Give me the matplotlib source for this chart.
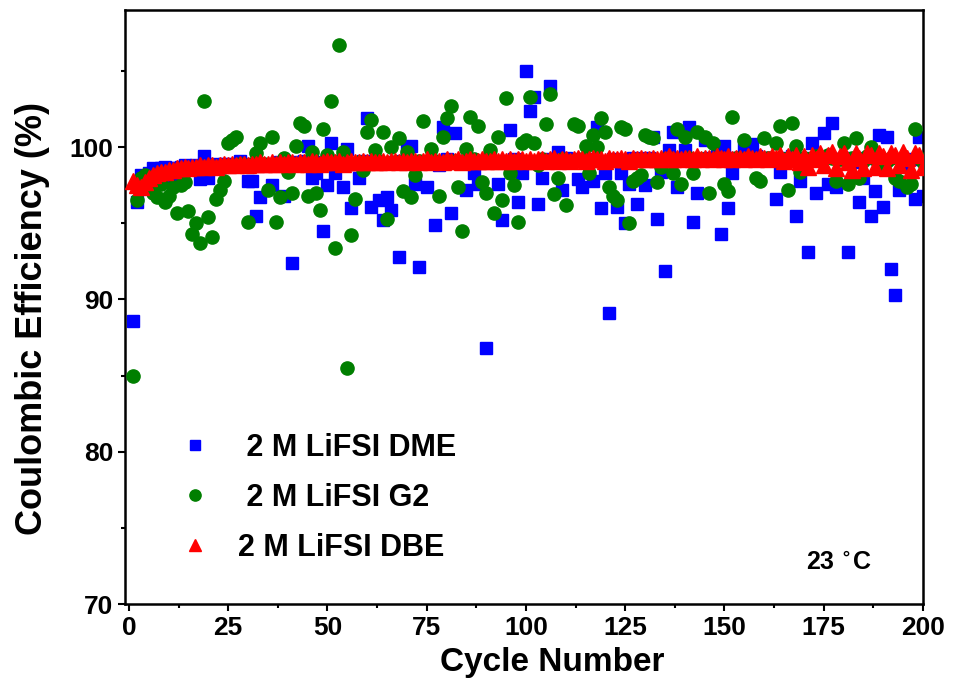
#!/usr/bin/env python

import matplotlib
matplotlib.use("Agg")
import matplotlib.pyplot as plt
from matplotlib.ticker import MultipleLocator

plt.rcParams['font.family'] = ['Liberation Sans', 'DejaVu Sans']
plt.rcParams['font.weight'] = 'bold'

CYCLES = list(range(1, 201))

# 2 M LiFSI DME (blue squares), cycle 1..200
DME_CE = [
	88.6, 96.4, 98.2, 98.0, 98.3, 98.6, 98.5, 98.6, 98.7, 98.6,
	97.8, 98.6, 98.7, 98.8, 98.7, 98.6, 98.8, 97.9, 99.4, 98.0,
	98.8, 98.9, 98.7, 98.9, 98.8, 98.9, 98.8, 99.1, 98.9, 97.8,
	97.8, 95.5, 96.7, 98.9, 98.8, 97.5, 98.9, 99.0, 96.8, 98.9,
	92.4, 99.0, 98.9, 99.1, 100.1, 98.0, 98.3, 99.0, 94.5, 97.5,
	100.3, 98.3, 99.1, 97.4, 99.9, 96.0, 98.9, 98.0, 99.1, 101.9,
	96.1, 99.0, 96.5, 95.2, 96.7, 95.9, 99.0, 92.8, 99.1, 99.9,
	100.1, 97.6, 92.1, 99.0, 97.4, 99.1, 94.9, 98.8, 101.3, 99.2,
	95.7, 100.9, 99.0, 99.1, 97.2, 99.2, 98.3, 97.6, 99.1, 86.8,
	99.2, 99.0, 97.6, 95.2, 99.1, 101.1, 99.2, 96.4, 98.3, 105.0,
	102.4, 103.3, 96.3, 98.0, 99.2, 104.0, 99.1, 99.7, 97.2, 99.3,
	99.1, 99.2, 97.9, 97.4, 99.2, 99.1, 97.8, 101.3, 96.0, 98.3,
	89.1, 99.2, 96.1, 98.3, 95.0, 97.6, 99.3, 96.3, 99.2, 97.5,
	99.3, 100.7, 95.3, 98.4, 91.9, 99.8, 101.0, 97.4, 99.3, 99.8,
	101.3, 95.1, 97.0, 99.2, 100.5, 99.3, 99.2, 99.4, 94.3, 100.1,
	96.0, 98.3, 99.3, 99.2, 100.0, 99.3, 100.2, 99.4, 99.2, 99.3,
	99.3, 99.2, 96.6, 98.4, 99.3, 99.2, 99.4, 95.5, 97.8, 99.3,
	93.1, 100.3, 97.0, 99.3, 100.9, 97.6, 101.6, 97.4, 99.2, 99.3,
	93.1, 99.0, 99.2, 96.4, 98.0, 99.3, 95.5, 97.1, 100.8, 96.1,
	100.7, 92.0, 90.3, 97.2, 99.1, 98.9, 99.2, 96.6, 100.7, 96.8,
]

# 2 M LiFSI G2 (green circles)
G2_CE = [
	85.0, 96.5, 98.0, 98.2, 97.3, 97.0, 96.7, 97.6, 96.4, 96.8,
	97.4, 95.7, 97.5, 97.7, 95.8, 94.3, 95.0, 93.7, 103.0, 95.4,
	94.1, 96.6, 97.2, 97.8, 100.3, 100.5, 100.7, 98.9, 98.8, 95.1,
	98.9, 99.6, 100.3, 98.9, 97.2, 100.7, 95.1, 96.7, 99.3, 98.4,
	97.0, 100.1, 101.6, 101.4, 96.8, 99.7, 97.0, 95.9, 101.2, 99.5,
	103.0, 93.4, 106.7, 99.7, 85.5, 94.2, 96.6, 99.0, 98.5, 101.0,
	101.8, 99.8, 99.1, 101.0, 95.3, 100.0, 99.0, 100.6, 97.1, 99.7,
	96.7, 98.2, 99.1, 101.7, 99.0, 99.9, 99.1, 96.8, 100.7, 101.9,
	102.7, 99.1, 97.4, 94.5, 99.9, 102.0, 99.2, 101.4, 97.7, 97.0,
	99.8, 95.7, 100.7, 96.5, 103.2, 98.3, 97.5, 95.1, 100.3, 100.5,
	103.3, 100.3, 98.8, 99.2, 101.5, 103.5, 96.9, 98.0, 99.2, 96.2,
	99.1, 101.5, 101.4, 99.2, 100.1, 98.3, 100.8, 100.0, 101.9, 101.0,
	97.4, 96.8, 96.5, 101.3, 101.2, 95.0, 97.8, 98.0, 98.2, 100.8,
	100.7, 100.6, 97.7, 98.7, 99.2, 99.3, 98.3, 101.2, 97.6, 100.7,
	99.3, 98.3, 101.0, 99.2, 100.7, 97.0, 100.3, 99.3, 99.2, 97.6,
	97.1, 102.0, 99.3, 99.2, 100.5, 99.3, 99.2, 98.0, 97.8, 100.6,
	99.3, 99.2, 100.3, 101.4, 99.2, 97.2, 101.6, 100.1, 98.4, 99.3,
	99.2, 99.3, 99.4, 99.2, 99.3, 99.5, 99.3, 97.8, 99.2, 100.3,
	97.6, 99.3, 100.6, 98.0, 99.1, 99.4, 100.0, 99.2, 99.3, 98.7,
	99.1, 99.3, 98.0, 97.8, 99.2, 97.4, 97.6, 101.2, 99.3, 99.0,
]

# 2 M LiFSI DBE (red triangles)
DBE_CE = [
	97.8, 97.5, 97.4, 97.7, 98.0, 98.2, 98.3, 98.4, 98.4, 98.5,
	98.5, 98.6, 98.6, 98.7, 98.6, 98.7, 98.7, 98.8, 98.7, 98.8,
	98.8, 98.7, 98.8, 98.9, 98.8, 98.9, 98.8, 98.9, 98.9, 98.8,
	98.9, 98.9, 99.0, 98.9, 98.9, 99.0, 98.9, 99.0, 98.9, 99.0,
	99.0, 98.9, 99.0, 99.0, 98.9, 99.1, 99.0, 98.9, 99.0, 99.1,
	99.0, 99.0, 99.1, 98.9, 99.0, 99.1, 99.0, 99.0, 99.1, 99.0,
	99.1, 99.0, 99.0, 99.1, 99.0, 99.1, 99.1, 99.0, 99.1, 99.0,
	99.1, 99.1, 99.0, 99.1, 99.2, 99.0, 99.1, 99.1, 99.0, 99.2,
	99.1, 99.1, 99.2, 99.0, 99.1, 99.2, 99.1, 99.1, 99.2, 99.1,
	99.1, 99.2, 99.1, 99.2, 99.1, 99.2, 99.1, 99.2, 99.2, 99.1,
	99.2, 99.1, 99.2, 99.2, 99.1, 99.2, 99.3, 99.1, 99.2, 99.2,
	99.1, 99.2, 99.3, 99.2, 99.1, 99.2, 99.3, 99.2, 99.2, 99.1,
	99.3, 99.2, 99.2, 99.3, 99.2, 99.1, 99.3, 99.2, 99.3, 99.2,
	99.2, 99.3, 99.2, 99.3, 99.2, 99.4, 99.2, 99.3, 99.2, 99.3,
	99.3, 99.2, 99.4, 99.2, 99.3, 99.3, 99.2, 99.4, 99.3, 99.2,
	99.4, 99.2, 99.3, 99.3, 99.2, 99.4, 99.3, 99.2, 99.4, 99.3,
	99.2, 99.4, 99.3, 99.5, 99.1, 99.4, 99.2, 99.5, 99.0, 99.4,
	98.7, 99.5, 99.2, 99.6, 98.8, 99.5, 99.7, 98.6, 99.4, 99.6,
	99.0, 98.5, 99.6, 99.3, 98.6, 99.6, 99.5, 98.7, 99.6, 99.4,
	98.6, 99.6, 99.5, 98.8, 99.7, 99.3, 98.5, 99.6, 99.5, 98.7,
]

SERIES_LABELS = [" 2 M LiFSI DME", " 2 M LiFSI G2", "2 M LiFSI DBE"]
TEMP_LABEL = "23 $^{\\circ}$C"

X_TICKS = [0, 25, 50, 75, 100, 125, 150, 175, 200]
Y_TICKS = [70, 80, 90, 100]


def drawEfficiency():
	fig = plt.figure(figsize=(9.54, 6.93), dpi=100)
	ax = fig.add_axes([0.131, 0.1284, 0.8365, 0.857])

	ax.plot(CYCLES, DME_CE, linestyle='none', marker='s', markersize=8.5,
		color='#0000ff', label=SERIES_LABELS[0], zorder=2)
	ax.plot(CYCLES, G2_CE, linestyle='none', marker='o', markersize=9.5,
		color='#007f00', label=SERIES_LABELS[1], zorder=3)
	ax.plot(CYCLES, DBE_CE, linestyle='none', marker='^', markersize=11,
		color='#ff0000', label=SERIES_LABELS[2], zorder=4)

	ax.set_xlim(-1, 200)
	ax.set_ylim(70, 109)
	ax.set_xticks(X_TICKS)
	ax.set_yticks(Y_TICKS)
	ax.xaxis.set_minor_locator(MultipleLocator(12.5))
	ax.yaxis.set_minor_locator(MultipleLocator(5))

	ax.tick_params(which='both', direction='out', top=False, right=False, width=1.5, labelsize=19)
	ax.tick_params(which='major', length=5)
	ax.tick_params(which='minor', length=3)
	for sp in ax.spines.values():
		sp.set_linewidth(1.8)

	ax.set_xlabel('Cycle Number', fontsize=24, fontweight='bold')
	ax.set_ylabel('Coulombic Efficiency (%)', fontsize=26, fontweight='bold')
	ax.xaxis.set_label_coords(0.535, -0.072)
	ax.yaxis.set_label_coords(-0.094, 0.48)

	ax.legend(loc='upper left', bbox_to_anchor=(0.069, 0.288), frameon=False,
		numpoints=1, markerscale=0.85, handlelength=1.0, handletextpad=0.9,
		labelspacing=0.65, borderpad=0, borderaxespad=0,
		prop={'size': 22, 'weight': 'bold'})

	ax.text(0.895, 0.069, TEMP_LABEL, transform=ax.transAxes, ha='center', va='center',
		fontsize=18, fontweight='bold')

	fig.savefig("out.png", dpi=100)


def main():
	drawEfficiency()


if __name__ == "__main__":
	main()
